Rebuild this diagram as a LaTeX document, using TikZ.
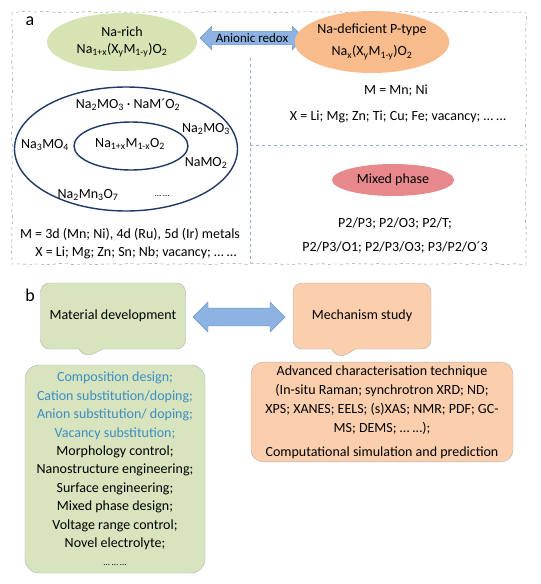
\documentclass[tikz,border=0pt]{standalone}
\usepackage{fontspec}
\setmainfont{Carlito}
\usetikzlibrary{shapes.geometric,shapes.arrows,shapes.callouts,decorations.pathmorphing}

\definecolor{richgreen}{HTML}{D6E4B4}
\definecolor{deforange}{HTML}{F8BB8C}
\definecolor{mixedred}{HTML}{E7898C}
\definecolor{boxgreen}{HTML}{D7E4BD}
\definecolor{boxorange}{HTML}{FBCFAE}
\definecolor{arrowblue}{HTML}{8DB3E2}
\definecolor{arrowedge}{HTML}{6F97C9}
\definecolor{textblue}{HTML}{3C8DC6}
\definecolor{navy}{HTML}{203864}
\definecolor{divblue}{HTML}{8EA9DB}
\definecolor{framegray}{HTML}{8C8C8C}

\newcommand{\sbs}[1]{\textsubscript{#1}}

\begin{document}
\begin{tikzpicture}[x=1pt,y=-1pt,font=\fontsize{14}{17}\selectfont,
  rough/.style={decorate,decoration={random steps,segment length=5pt,amplitude=0.5pt}},
  blob/.style={ellipse,inner sep=0pt,align=center},
  bubble/.style={rectangle callout,rounded corners=9pt,draw=framegray!70,
    callout pointer width=24pt,align=center},
  twoway/.style={double arrow,fill=arrowblue,draw=arrowedge,
    double arrow head extend=5pt,inner xsep=0pt}]
  \useasboundingbox (0,0) rectangle (541,584);
  \pgfmathsetseed{7}

  % panel a
  \draw[framegray,dashed,rough] (12,12) rectangle (526,264);
  \node (la) at (30,21) {\fontsize{18}{20}\selectfont a};

  \node[blob,fill=richgreen,minimum width=150,minimum height=58] (narich) at (122,42)
    {Na-rich\\Na\sbs{1+x}(X\sbs{y}M\sbs{1-y})O\sbs{2}};
  \node[twoway,minimum height=104,inner ysep=2pt,font=\fontsize{13}{14}\selectfont] (redox) at (252,38) {Anionic redox};
  \node[blob,fill=deforange,minimum width=130,minimum height=62] (nadef) at (372,42)
    {Na-deficient P-type\\[5pt]Na\sbs{x}(X\sbs{y}M\sbs{1-y})O\sbs{2}};

  \coordinate (vtop) at (250,58);
  \coordinate (vbot) at (250,263);
  \coordinate (hleft) at (250,145);
  \coordinate (hright) at (526,145);
  \draw[divblue,dashed] (vtop) -- (vbot);
  \draw[divblue,dashed] (hleft) -- (hright);

  \node (mdef) at (396,91) {M = Mn; Ni};
  \node (xdef) at (398,117) {X = Li; Mg; Zn; Ti; Cu; Fe; vacancy; … …};

  \node[draw=navy,line width=1.4pt,ellipse,minimum width=223,minimum height=124] (outer) at (126,149) {};
  \node[draw=navy,line width=1.4pt,ellipse,minimum width=114,minimum height=48] (inner) at (131,146) {};
  \node (f1) at (128,105) {Na\sbs{2}MO\sbs{3} · NaM´O\sbs{2}};
  \node (f2) at (206,129) {Na\sbs{2}MO\sbs{3}};
  \node (f3) at (45,145) {Na\sbs{3}MO\sbs{4}};
  \node (f4) at (130,144) {Na\sbs{1+x}M\sbs{1-x}O\sbs{2}};
  \node (f5) at (206,163) {NaMO\sbs{2}};
  \node (f6) at (88,195) {Na\sbs{2}Mn\sbs{3}O\sbs{7}};
  \node (f7) at (162,196) {\fontsize{9}{10}\selectfont … …};

  \node (mrich) at (130,234) {M = 3d (Mn; Ni), 4d (Ru), 5d (Ir) metals};
  \node (xrich) at (136,253) {X = Li; Mg; Zn; Sn; Nb; vacancy; … …};

  \node[blob,fill=mixedred,minimum width=122,minimum height=32] (mixed) at (393,180) {Mixed phase};
  \node (p1) at (395,224) {P2/P3; P2/O3; P2/T;};
  \node (p2) at (395,248) {P2/P3/O1; P2/P3/O3; P3/P2/O´3};

  % panel b
  \node (lb) at (30,295) {\fontsize{18}{20}\selectfont b};

  \node[bubble,fill=boxgreen,minimum width=145,minimum height=66,
    callout absolute pointer={(85,358)}] (matdev) at (113,316) {Material development};
  \node[twoway,minimum height=92,minimum width=30,inner ysep=7pt] (both) at (239,317) {};
  \node[bubble,fill=boxorange,minimum width=138,minimum height=66,
    callout absolute pointer={(338,359)}] (mech) at (362,316) {Mechanism study};

  \node[draw=framegray!70,fill=boxgreen,rounded corners=14pt,minimum width=180,minimum height=208,
    align=center,font=\fontsize{14}{18.4}\selectfont] (strat) at (115,469)
    {\textcolor{textblue}{Composition design;}\\
     \textcolor{textblue}{Cation substitution/doping;}\\
     \textcolor{textblue}{Anion substitution/ doping;}\\
     \textcolor{textblue}{Vacancy substitution;}\\
     Morphology control;\\
     Nanostructure engineering;\\
     Surface engineering;\\
     Mixed phase design;\\
     Voltage range control;\\
     Novel electrolyte;\\
     {\fontsize{9}{10}\selectfont … … …}};

  \node[draw=framegray!70,fill=boxorange,rounded corners=12pt,minimum width=262,minimum height=91,
    align=center,font=\fontsize{14}{19}\selectfont] (tech) at (382,412)
    {Advanced characterisation technique\\
     (In-situ Raman; synchrotron XRD; ND;\\
     XPS; XANES; EELS; (s)XAS; NMR; PDF; GC-\\
     MS; DEMS; … …);\\[5pt]
     Computational simulation and prediction};
\end{tikzpicture}
\end{document}
